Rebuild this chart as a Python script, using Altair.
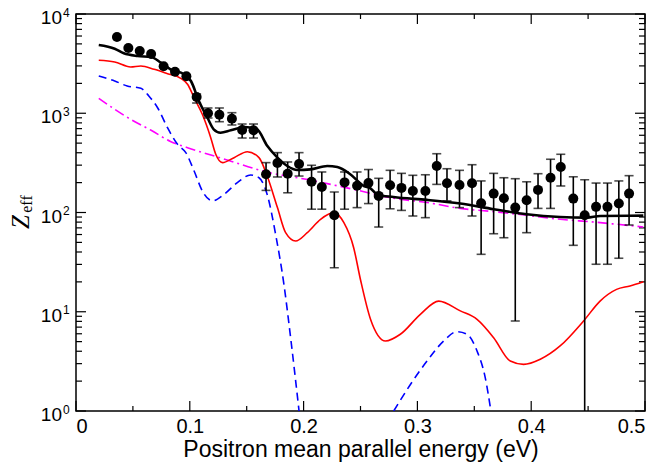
import altair as alt
import pandas as pd

# ---------------- data ----------------
pts_x = [0.036, 0.046, 0.056, 0.066, 0.077, 0.087, 0.097, 0.106, 0.116, 0.126,
         0.137, 0.146, 0.156, 0.167, 0.177, 0.186, 0.196, 0.207, 0.216, 0.227,
         0.236, 0.247, 0.257, 0.266, 0.276, 0.286, 0.296, 0.307, 0.317, 0.326,
         0.337, 0.348, 0.356, 0.367, 0.376, 0.386, 0.396, 0.406, 0.417, 0.426,
         0.437, 0.447, 0.457, 0.467, 0.477, 0.486]
pts_y = [5870, 4540, 4240, 3955, 2970, 2623, 2357, 1458, 998, 967,
         881, 677, 673, 243, 315, 246, 308, 204, 181, 94,
         201, 186, 198, 147, 188, 177, 165, 165, 294, 197,
         189, 197, 124, 155, 139, 112, 133, 169, 224, 287,
         138, 94, 114, 114, 123, 155]
err_hi = [5870, 4540, 4240, 3955, 2970, 2623, 2357, 1563, 1130, 1130,
          1013, 779, 779, 318, 401, 323, 401, 299, 256, 161,
          256, 256, 271, 221, 266, 248, 237, 240, 391, 276,
          266, 303, 208, 248, 224, 219, 204, 246, 344, 386,
          229, 214, 198, 198, 208, 235]
err_lo = [5870, 4540, 4240, 3955, 2970, 2623, 2357, 1268, 896, 822,
          762, 563, 563, 167, 228, 158, 233, 108, 108, 27.8,
          108, 112, 123, 71.4, 109, 105, 92.2, 88.7, 192, 131,
          112, 92.2, 37.9, 61.1, 55.7, 8.07, 62.6, 110, 110, 185,
          46.7, 0.5, 30.1, 30.1, 34.6, 74.8]

black_x = [0.02, 0.034, 0.042, 0.054, 0.066, 0.0746, 0.083, 0.095, 0.101, 0.108,
           0.1155, 0.121, 0.127, 0.136, 0.148, 0.159, 0.168, 0.177, 0.1857, 0.1944,
           0.206, 0.2208, 0.2296, 0.241, 0.253, 0.2588, 0.2646, 0.279, 0.3085, 0.3377,
           0.367, 0.396, 0.4254, 0.449, 0.4605, 0.4985]
black_y = [4875, 4470, 4018, 3775, 3690, 3235, 2773, 2468, 2113, 1329,
           902, 689, 637, 673, 727, 689, 470, 357, 294, 268,
           272, 294, 287, 243, 185, 175, 152, 143, 134, 123,
           108, 96, 90, 88.7, 92.2, 93]

red_x = [0.02, 0.034, 0.048, 0.057, 0.0687, 0.0804, 0.092, 0.098, 0.1038, 0.111,
         0.1184, 0.1228, 0.1287, 0.1389, 0.1506, 0.1608, 0.168, 0.177, 0.1842, 0.193,
         0.2032, 0.2149, 0.2266, 0.2354, 0.244, 0.25, 0.2588, 0.272, 0.285, 0.3026,
         0.3187, 0.3377, 0.3524, 0.367, 0.3816, 0.3933, 0.408, 0.4254, 0.446, 0.4605,
         0.475, 0.4868, 0.4985]
red_y = [3415, 3283, 2925, 2993, 2773, 2505, 2250, 1958, 1435, 976,
         567, 386, 318, 357, 410, 357, 233, 112, 62.6, 51.6,
         62.6, 85.4, 99.6, 78.9, 44.2, 21, 8.4, 5.07, 5.93, 9.42,
         12.8, 10.2, 8.39, 5.48, 3.19, 2.95, 3.32, 4.52, 8.07, 12.8,
         16.8, 18.2, 20.1]

blue1_x = [0.02, 0.034, 0.045, 0.057, 0.064, 0.0717, 0.0804, 0.0892, 0.0965, 0.1038,
           0.111, 0.12, 0.130, 0.1418, 0.1535, 0.1608, 0.168, 0.1754, 0.1827, 0.1886,
           0.196]
blue1_y = [2372, 2113, 1882, 1784, 1492, 1137, 715, 487, 401, 262,
           165, 131, 152, 200, 239, 224, 152, 60.3, 18.9, 5.48,
           1.0]
blue2_x = [0.2792, 0.294, 0.3085, 0.323, 0.3348, 0.3436, 0.3524, 0.3596, 0.3646]
blue2_y = [1.0, 1.86, 3.19, 5.07, 6.3, 5.93, 4.02, 2.17, 1.0]

mag_x = [0.02, 0.034, 0.048, 0.066, 0.083, 0.098, 0.128, 0.168, 0.206, 0.244,
         0.279, 0.3085, 0.3377, 0.367, 0.396, 0.4254, 0.4547, 0.4985]
mag_y = [1415, 1096, 869, 673, 520, 450, 352, 255, 212, 171,
         139, 126, 110, 102, 93.7, 85.4, 80.2, 71.4]

x_major = [0, 0.1, 0.2, 0.3, 0.4, 0.5]
x_minor = [0.05, 0.15, 0.25, 0.35, 0.45]
y_major = [1, 10, 100, 1000, 10000]
y_exp = ["0", "1", "2", "3", "4"]
y_minor = [m * d for d in [1, 10, 100, 1000] for m in range(2, 10)]

x_title = "Positron mean parallel energy (eV)"

# ---------------- chart ----------------
W, H = 569, 397
xs = alt.Scale(domain=[0, 0.5], nice=False, zero=False)
ys = alt.Scale(type="log", domain=[1, 10000], nice=False)
FONT = "Liberation Sans"

pts = pd.DataFrame({"x": pts_x, "y": pts_y, "lo": err_lo, "hi": err_hi})


def curve(xv, yv, seg=0):
    return pd.DataFrame({"x": xv, "y": yv, "seg": [seg] * len(xv)})


X = alt.X("x:Q", scale=xs, axis=alt.Axis(
    values=x_major, format=".1~f", ticks=False, domain=False, grid=False,
    labelFontSize=20, labelFont=FONT, labelColor="black", labelPadding=5,
    title=x_title, titleFont=FONT, titleFontSize=23, titleFontWeight="normal",
    titleColor="black", titlePadding=2))
Yn = alt.Y("y:Q", scale=ys, axis=None)

base_pts = alt.Chart(pts)
has_err = "datum.hi > datum.y"
err = base_pts.transform_filter(has_err).mark_rule(
    color="black", strokeWidth=1.6, clip=True).encode(
    x=X, y=alt.Y("lo:Q", scale=ys, axis=None), y2="hi:Q")
cap_hi = base_pts.transform_filter(has_err).mark_tick(
    color="black", orient="horizontal", size=9, thickness=1.6, clip=True).encode(
    x=X, y=alt.Y("hi:Q", scale=ys, axis=None))
cap_lo = base_pts.transform_filter(has_err).mark_tick(
    color="black", orient="horizontal", size=9, thickness=1.6, clip=True).encode(
    x=X, y=alt.Y("lo:Q", scale=ys, axis=None))
dots = base_pts.mark_circle(color="black", size=100, opacity=1).encode(x=X, y=Yn)

black = alt.Chart(curve(black_x, black_y)).mark_line(
    color="black", strokeWidth=2.6, interpolate="monotone", clip=True).encode(x=X, y=Yn)
red = alt.Chart(curve(red_x, red_y)).mark_line(
    color="#ff0000", strokeWidth=1.6, interpolate="monotone", clip=True).encode(x=X, y=Yn)
blue = alt.Chart(pd.concat([curve(blue1_x, blue1_y, 0), curve(blue2_x, blue2_y, 1)])).mark_line(
    color="#0000ff", strokeWidth=1.6, strokeDash=[8, 5], interpolate="monotone", clip=True).encode(
    x=X, y=Yn, detail="seg:N")
mag = alt.Chart(curve(mag_x, mag_y)).mark_line(
    color="#ff00ff", strokeWidth=1.6, strokeDash=[10, 4, 2, 4], interpolate="monotone", clip=True).encode(
    x=X, y=Yn)

# ticks pointing inward on all four sides
xmaj = alt.Chart(pd.DataFrame({"x": x_major}))
xmin = alt.Chart(pd.DataFrame({"x": x_minor}))
ymaj = alt.Chart(pd.DataFrame({"y": y_major, "e": y_exp}))
ymin = alt.Chart(pd.DataFrame({"y": y_minor}))
tk = dict(color="black", strokeWidth=1.2)
ticks = [
    xmaj.mark_rule(**tk).encode(x=X, y=alt.value(H), y2=alt.value(H - 10)),
    xmaj.mark_rule(**tk).encode(x=X, y=alt.value(0), y2=alt.value(10)),
    xmin.mark_rule(**tk).encode(x=X, y=alt.value(H), y2=alt.value(H - 5)),
    xmin.mark_rule(**tk).encode(x=X, y=alt.value(0), y2=alt.value(5)),
    ymaj.mark_rule(**tk).encode(y=Yn, x=alt.value(0), x2=alt.value(10)),
    ymaj.mark_rule(**tk).encode(y=Yn, x=alt.value(W), x2=alt.value(W - 10)),
    ymin.mark_rule(**tk).encode(y=Yn, x=alt.value(0), x2=alt.value(6)),
    ymin.mark_rule(**tk).encode(y=Yn, x=alt.value(W), x2=alt.value(W - 6)),
]

ylab_base = ymaj.transform_calculate(t="'10'").mark_text(
    align="right", baseline="middle", fontSize=19, font=FONT, color="black", dy=4).encode(
    x=alt.value(-14), y=Yn, text="t:N")
ylab_exp = ymaj.mark_text(
    align="left", baseline="alphabetic", fontSize=12, font=FONT, color="black", dy=2.5).encode(
    x=alt.value(-13), y=Yn, text="e:N")

ztitle = pd.DataFrame({"z": ["Z"], "s": ["eff"]})
zt = alt.Chart(ztitle).mark_text(
    angle=270, font="Liberation Serif", fontStyle="italic", fontSize=25,
    align="center", baseline="middle", color="black").encode(
    x=alt.value(-55), y=alt.value(208), text="z:N")
zs = alt.Chart(ztitle).mark_text(
    angle=270, font="Liberation Serif", fontSize=16,
    align="center", baseline="middle", color="black").encode(
    x=alt.value(-49), y=alt.value(190), text="s:N")

chart = alt.layer(
    *ticks, mag, blue, red, black, err, cap_hi, cap_lo, dots,
    ylab_base, ylab_exp, zt, zs
).properties(
    width=W, height=H,
    padding={"left": 68, "top": 6, "right": 7, "bottom": 54},
    autosize=alt.AutoSizeParams(type="none"),
).configure_view(stroke="black", strokeWidth=1.5)

chart.save("out.html", embed_options={"renderer": "svg", "actions": False})
